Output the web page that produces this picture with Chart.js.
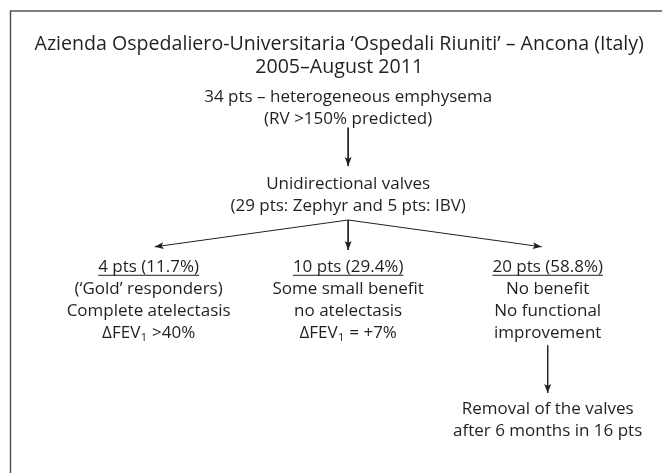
<!DOCTYPE html>
<html><head><meta charset="utf-8">
<script src="https://cdn.jsdelivr.net/npm/chart.js@4"></script>
<style>html,body{margin:0;background:#fff}#wrap{width:662px;height:473px}</style>
</head><body><div id="wrap"><canvas id="flow"></canvas></div>
<script>
// Boxes of the flow chart: text lines, column (x) and first text row (y)
const nodeLines = [
  ['Azienda Ospedaliero-Universitaria ‘Ospedali Riuniti’ – Ancona (Italy)', '2005–August 2011'],
  ['34 pts – heterogeneous emphysema', '(RV >150% predicted)'],
  ['Unidirectional valves', '(29 pts: Zephyr and 5 pts: IBV)'],
  ['4 pts (11.7%)', '(‘Gold’ responders)', 'Complete atelectasis', 'ΔFEV_1 >40%'],
  ['10 pts (29.4%)', 'Some small benefit', 'no atelectasis', 'ΔFEV_1 = +7%'],
  ['20 pts (58.8%)', 'No benefit', 'No functional', 'improvement'],
  ['Removal of the valves', 'after 6 months in 16 pts']
];
const nodeColumn = [-0.045, 0, 0, -1, 0, 1, 1];
const nodeRow = [2.0, 4.4, 8.35, 12.15, 12.15, 12.15, 18.6];
const nodeUnderlined = [false, false, false, true, true, true, false];

// Arrows: start and end as [column, row]
const arrowFrom = [[0, 5.8], [0, 10], [0, 10], [0, 10], [1, 15.7]];
const arrowTo = [[0, 7.55], [-0.97, 11.22], [0, 11.36], [0.97, 11.22], [1, 17.86]];

const ink = '#231f20';
const fontFamily = '"Open Sans", sans-serif';
const bodySize = 17;
const titleSize = 19.6;

const datasets = arrowFrom.map((from, i) => ({
  data: [{ x: from[0], y: from[1] }, { x: arrowTo[i][0], y: arrowTo[i][1] }],
  showLine: true,
  borderColor: ink,
  borderWidth: 1,
  pointRadius: 0
}));

// grey frame, open to the right and bottom like the cropped original
const framePlugin = {
  id: 'frame',
  beforeDraw(chart) {
    const ctx = chart.ctx;
    ctx.save();
    ctx.strokeStyle = '#555';
    ctx.lineWidth = 1.5;
    ctx.strokeRect(10.5, 11, chart.width + 20, chart.height + 20);
    ctx.restore();
  }
};

const arrowHeads = {
  id: 'arrowHeads',
  afterDatasetsDraw(chart) {
    const ctx = chart.ctx;
    ctx.save();
    ctx.fillStyle = ink;
    chart.data.datasets.forEach((ds, i) => {
      const pts = chart.getDatasetMeta(i).data;
      const a = pts[0], b = pts[pts.length - 1];
      const ang = Math.atan2(b.y - a.y, b.x - a.x);
      ctx.save();
      ctx.translate(b.x, b.y);
      ctx.rotate(ang);
      ctx.beginPath();
      ctx.moveTo(0, 0);
      ctx.lineTo(-9, -3.5);
      ctx.lineTo(-7, 0);
      ctx.lineTo(-9, 3.5);
      ctx.closePath();
      ctx.fill();
      ctx.restore();
    });
    ctx.restore();
  }
};

// centred line with "_1" drawn as a subscript 1
function drawRich(ctx, text, cx, cy, size, underline) {
  const parts = text.split('_1');
  const main = size + 'px ' + fontFamily;
  const sub = Math.round(size * 0.65) + 'px ' + fontFamily;
  ctx.font = sub;
  const subW = ctx.measureText('1').width;
  ctx.font = main;
  let total = 0;
  parts.forEach((p, k) => { total += ctx.measureText(p).width + (k < parts.length - 1 ? subW + 1 : 0); });
  let x = cx - total / 2;
  ctx.textAlign = 'left';
  parts.forEach((p, k) => {
    ctx.font = main;
    ctx.fillText(p, x, cy);
    x += ctx.measureText(p).width;
    if (k < parts.length - 1) {
      ctx.font = sub;
      ctx.fillText('1', x + 0.5, cy + size * 0.28);
      x += subW + 1;
    }
  });
  if (underline) {
    ctx.fillRect(cx - total / 2, cy + size * 0.44, total, 1);
  }
}

const labels = {
  id: 'labels',
  afterDatasetsDraw(chart) {
    const ctx = chart.ctx;
    const xs = chart.scales.x, ys = chart.scales.y;
    ctx.save();
    ctx.fillStyle = ink;
    ctx.textBaseline = 'middle';
    nodeLines.forEach((lines, n) => {
      const cx = xs.getPixelForValue(nodeColumn[n]);
      const size = n === 0 ? titleSize : bodySize;
      const step = n === 0 ? 1.05 : 1;
      lines.forEach((line, i) => {
        const cy = ys.getPixelForValue(nodeRow[n] + i * step);
        drawRich(ctx, line, cx, cy, size, nodeUnderlined[n] && i === 0);
      });
    });
    ctx.restore();
  }
};

new Chart(document.getElementById('flow'), {
  type: 'scatter',
  data: { datasets },
  options: {
    responsive: true,
    maintainAspectRatio: false,
    animation: false,
    events: [],
    layout: { padding: 0 },
    plugins: { legend: { display: false }, tooltip: { enabled: false } },
    scales: {
      x: { type: 'linear', display: false, min: -1.745, max: 1.573 },
      y: { type: 'linear', display: false, reverse: true, min: 0, max: 21.5 }
    }
  },
  plugins: [framePlugin, arrowHeads, labels]
});
</script>
</body></html>
